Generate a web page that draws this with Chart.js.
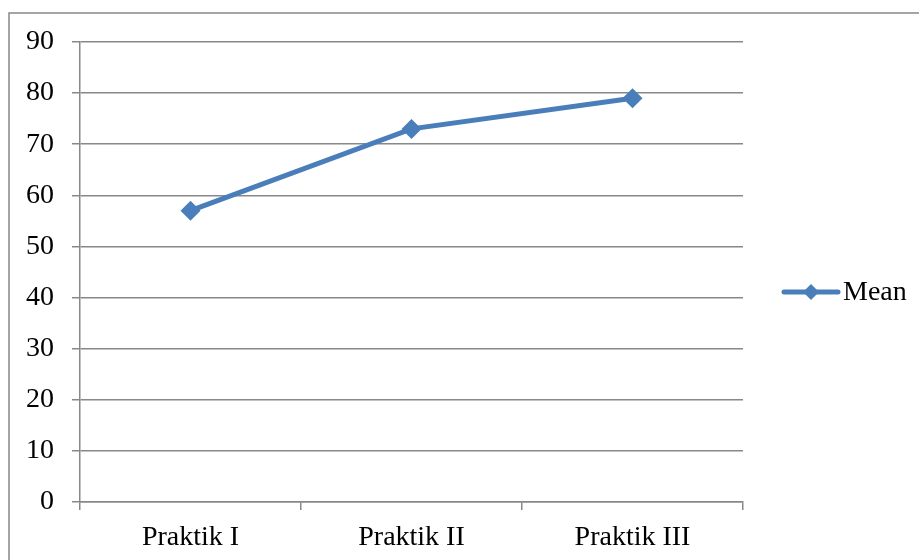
<!DOCTYPE html>
<html>
<head>
<meta charset="utf-8">
<style>
  html, body { margin: 0; padding: 0; background: #ffffff; }
  #wrap { position: relative; width: 920px; height: 560px; }
</style>
<script src="https://cdn.jsdelivr.net/npm/chart.js@4/dist/chart.umd.min.js"></script>
</head>
<body>
<div id="wrap"><canvas id="chart" width="920" height="560"></canvas></div>
<script>
// Mean score per practice session
const categories = ['Praktik I', 'Praktik II', 'Praktik III'];
const meanValues = [57, 73, 79];
const seriesName = 'Mean';
const yTicks = [0, 10, 20, 30, 40, 50, 60, 70, 80, 90];

const LINE_BLUE = '#4a7ebb';
const AXIS_GREY = '#888888';
const FONT = { family: '"Liberation Serif", "Times New Roman", serif', size: 28 };

// Frame around the chart (top and left edges are visible)
const framePlugin = {
  id: 'frame',
  afterDraw(chart) {
    const ctx = chart.ctx;
    ctx.save();
    ctx.strokeStyle = AXIS_GREY;
    ctx.lineWidth = 1.5;
    ctx.beginPath();
    ctx.moveTo(9, 560);
    ctx.lineTo(9, 13);
    ctx.lineTo(919, 13);
    ctx.stroke();
    ctx.restore();
  }
};

// Legend entry on the right: line segment with a diamond and the series name
const sideLegend = {
  id: 'sideLegend',
  afterDraw(chart) {
    const ds = chart.data.datasets[0];
    const ctx = chart.ctx;
    const y = 292;
    const x0 = 784, x1 = 838, xm = (x0 + x1) / 2;
    ctx.save();
    ctx.strokeStyle = ds.borderColor;
    ctx.lineWidth = ds.borderWidth;
    ctx.lineCap = 'round';
    ctx.beginPath();
    ctx.moveTo(x0, y);
    ctx.lineTo(x1, y);
    ctx.stroke();
    ctx.fillStyle = ds.pointBackgroundColor;
    const r = 8;
    ctx.beginPath();
    ctx.moveTo(xm, y - r);
    ctx.lineTo(xm + r, y);
    ctx.lineTo(xm, y + r);
    ctx.lineTo(xm - r, y);
    ctx.closePath();
    ctx.fill();
    ctx.fillStyle = '#000000';
    ctx.font = FONT.size + 'px ' + FONT.family;
    ctx.textBaseline = 'middle';
    ctx.textAlign = 'left';
    ctx.fillText(ds.label, 843, y + 1);
    ctx.restore();
  }
};

new Chart(document.getElementById('chart'), {
  type: 'line',
  data: {
    labels: categories,
    datasets: [{
      label: seriesName,
      data: meanValues,
      borderColor: LINE_BLUE,
      backgroundColor: LINE_BLUE,
      borderWidth: 5,
      pointStyle: 'rectRot',
      pointRadius: 10,
      pointHoverRadius: 10,
      pointBackgroundColor: LINE_BLUE,
      pointBorderColor: LINE_BLUE,
      pointBorderWidth: 0,
      tension: 0,
      fill: false
    }]
  },
  options: {
    responsive: false,
    animation: false,
    devicePixelRatio: 1,
    layout: { padding: { left: 0, top: 42, right: 177, bottom: 0 } },
    plugins: {
      legend: { display: false },
      tooltip: { enabled: false }
    },
    scales: {
      x: {
        type: 'category',
        offset: true,
        grid: {
          offset: true,
          drawOnChartArea: false,
          drawTicks: true,
          tickLength: 8,
          color: AXIS_GREY,
          lineWidth: 1.5
        },
        border: { display: true, color: AXIS_GREY, width: 1.5 },
        ticks: { color: '#000000', font: FONT, padding: 11, maxRotation: 0 },
        afterFit(scale) { scale.height = 58; }
      },
      y: {
        min: 0,
        max: 90,
        afterBuildTicks(scale) { scale.ticks = yTicks.map(v => ({ value: v })); },
        grid: {
          drawTicks: true,
          tickLength: 8,
          color: AXIS_GREY,
          lineWidth: 1.5
        },
        border: { display: true, color: AXIS_GREY, width: 1.5 },
        ticks: { color: '#000000', font: FONT, padding: 18 },
        afterFit(scale) { scale.width = 80; }
      }
    }
  },
  plugins: [framePlugin, sideLegend]
});
</script>
</body>
</html>
